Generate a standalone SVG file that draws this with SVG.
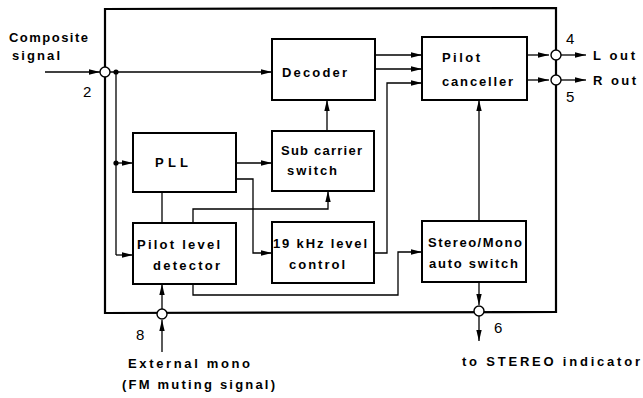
<svg xmlns="http://www.w3.org/2000/svg" width="643" height="398" viewBox="0 0 643 398">
<defs>
<marker id="ah" markerUnits="userSpaceOnUse" markerWidth="12" markerHeight="8" refX="11" refY="3.5" orient="auto">
<path d="M0,0.8 L11,3.5 L0,6.2 z" fill="#000"/>
</marker>
<style>
.box{fill:#fff;stroke:#000;stroke-width:2}
.frame{fill:none;stroke:#000;stroke-width:2.2}
.ln{fill:none;stroke:#000;stroke-width:1.3}
.ar{fill:none;stroke:#000;stroke-width:1.3;marker-end:url(#ah)}
.pin{fill:#fff;stroke:#000;stroke-width:1.4}
.t{font-family:"Liberation Sans",Arial,sans-serif;font-size:13px;font-weight:bold;fill:#000}
.n{font-family:"Liberation Sans",Arial,sans-serif;font-size:15px;fill:#000}
</style>
</defs>
<rect width="643" height="398" fill="#fff"/>
<g id="frame">
<path class="frame" d="M105,313 L105,9 L556,8 L556,312 Z"/>
</g>
<g id="connectors">
<path class="ar" d="M45,72 L100,72"/>
<path class="ar" d="M110,72 L272,72"/>
<path class="ln" d="M116,72 L116,255"/>
<circle cx="116" cy="72" r="2.6" fill="#000"/>
<circle cx="116" cy="163" r="2.6" fill="#000"/>
<path class="ar" d="M116,163 L133,163"/>
<path class="ar" d="M116,255 L133,255"/>
<path class="ar" d="M375,55 L422,55"/>
<path class="ar" d="M375,69 L422,69"/>
<path class="ar" d="M374,253 L387,253 L387,83 L422,83"/>
<path class="ar" d="M327,131 L327,100"/>
<path class="ar" d="M236,163 L272,163"/>
<path class="ar" d="M236,179 L253,179 L253,253 L272,253"/>
<path class="ar" d="M193,223 L193,209 L328,209 L328,191"/>
<path class="ln" d="M162,192 L162,223"/>
<path class="ar" d="M193,284 L193,295 L398,295 L398,252 L422,252"/>
<path class="ar" d="M479,221 L479,100"/>
<path class="ar" d="M527,55 L549,55"/>
<path class="ar" d="M527,80 L549,80"/>
<path class="ar" d="M561,55 L586,55"/>
<path class="ar" d="M561,80 L586,80"/>
<path class="ar" d="M479,282 L479,305"/>
<path class="ar" d="M479,316 L479,341"/>
<path class="ar" d="M162,309 L162,284"/>
<path class="ar" d="M162,352 L162,320"/>
</g>
<g id="pins">
<circle class="pin" cx="105" cy="72" r="5"/>
<circle class="pin" cx="556" cy="55" r="5"/>
<circle class="pin" cx="556" cy="80" r="5"/>
<circle class="pin" cx="479" cy="311" r="5"/>
<circle class="pin" cx="162" cy="314" r="5"/>
</g>
<g id="decoder">
<rect class="box" x="272" y="39" width="103" height="61"/>
<text class="t" x="282" y="77" textLength="65" lengthAdjust="spacing">Decoder</text>
</g>
<g id="subcarrier">
<rect class="box" x="272" y="131" width="102" height="60"/>
<text class="t" x="281" y="155" textLength="81" lengthAdjust="spacing">Sub carrier</text>
<text class="t" x="287" y="175" textLength="50" lengthAdjust="spacing">switch</text>
</g>
<g id="pll">
<rect class="box" x="133" y="133" width="103" height="59"/>
<text class="t" x="155" y="167" textLength="33" lengthAdjust="spacing">PLL</text>
</g>
<g id="pilotdetector">
<rect class="box" x="133" y="223" width="103" height="61"/>
<text class="t" x="137" y="249" textLength="83" lengthAdjust="spacing">Pilot level</text>
<text class="t" x="153" y="270" textLength="67" lengthAdjust="spacing">detector</text>
</g>
<g id="levelcontrol">
<rect class="box" x="272" y="222" width="102" height="61"/>
<text class="t" x="273" y="248" textLength="94" lengthAdjust="spacing">19 kHz level</text>
<text class="t" x="289" y="269" textLength="56" lengthAdjust="spacing">control</text>
</g>
<g id="canceller">
<rect class="box" x="422" y="37" width="105" height="63"/>
<text class="t" x="442" y="62" textLength="38" lengthAdjust="spacing">Pilot</text>
<text class="t" x="442" y="86" textLength="71" lengthAdjust="spacing">canceller</text>
</g>
<g id="stereomono">
<rect class="box" x="422" y="221" width="104" height="61"/>
<text class="t" x="428" y="247" textLength="94" lengthAdjust="spacing">Stereo/Mono</text>
<text class="t" x="429" y="268" textLength="89" lengthAdjust="spacing">auto switch</text>
</g>
<g id="labels">
<text class="t" x="9" y="42" textLength="79" lengthAdjust="spacing">Composite</text>
<text class="t" x="12" y="60" textLength="48" lengthAdjust="spacing">signal</text>
<text class="n" x="83" y="97">2</text>
<text class="n" x="566" y="44">4</text>
<text class="n" x="566" y="102">5</text>
<text class="n" x="494" y="333">6</text>
<text class="n" x="136" y="340">8</text>
<text class="t" x="593" y="60" textLength="42" lengthAdjust="spacing">L out</text>
<text class="t" x="593" y="85" textLength="43" lengthAdjust="spacing">R out</text>
<text class="t" x="128" y="368" textLength="122" lengthAdjust="spacing">External mono</text>
<text class="t" x="122" y="389" textLength="153" lengthAdjust="spacing">(FM muting signal)</text>
<text class="t" x="462" y="366" textLength="178" lengthAdjust="spacing">to STEREO indicator</text>
</g>
</svg>
